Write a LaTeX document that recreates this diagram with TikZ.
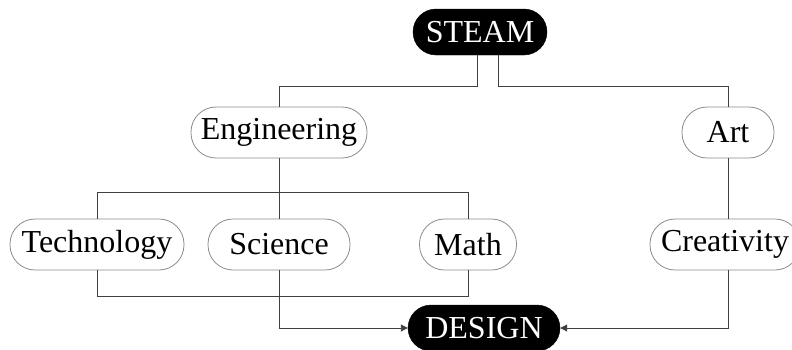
\documentclass[tikz,border=0pt]{standalone}
\usepackage{fontspec}
\setmainfont{Liberation Serif}
\usetikzlibrary{arrows.meta}
\begin{document}
\begin{tikzpicture}[x=1pt,y=-1pt,
  pill/.style={draw=black!45, line width=0.8pt, rounded corners=25pt, fill=white,
    minimum height=51pt, inner sep=0pt, font=\fontsize{32}{36}\selectfont},
  darkpill/.style={fill=black, draw=black, rounded corners=23pt, minimum height=46pt,
    inner sep=0pt, text=white, font=\fontsize{32}{36}\selectfont},
  link/.style={draw=black!75, line width=0.9pt},
  arr/.style={link, -{Triangle[length=7pt,width=7pt]}}]
\useasboundingbox (0,0) rectangle (792,349);
\node[darkpill, minimum width=134pt] (steam) at (480,32) {STEAM};
\node[pill, minimum width=176pt] (eng) at (279,132.5) {Engineering};
\node[pill, minimum width=92pt] (art) at (728,132.5) {Art};
\node[pill, minimum width=174pt] (tech) at (97,244.5) {Technology};
\node[pill, minimum width=142pt] (sci) at (279,244.5) {Science};
\node[pill, minimum width=97pt] (math) at (468,244.5) {Math};
\node[pill, minimum width=150pt] (crea) at (725,244.5) {Creativity};
\node[darkpill, minimum width=152pt] (design) at (484,328) {DESIGN};
\draw[link] ([xshift=-3pt]steam.south) -- ++(0,31) -| (eng.north);
\draw[link] ([xshift=18pt]steam.south) -- ++(0,31) -| (art.north);
\draw[link] (eng.south) -- (sci.north);
\draw[link] (art.south) -- (art.south |- crea.north);
\draw[link] (tech.north) -- ++(0,-26) -| (math.north);
\draw[link] (tech.south) -- ++(0,26) -| (math.south);
\draw[arr] (sci.south) |- (design.west);
\draw[arr] (crea.south -| art.south) |- (design.east);
\end{tikzpicture}
\end{document}
